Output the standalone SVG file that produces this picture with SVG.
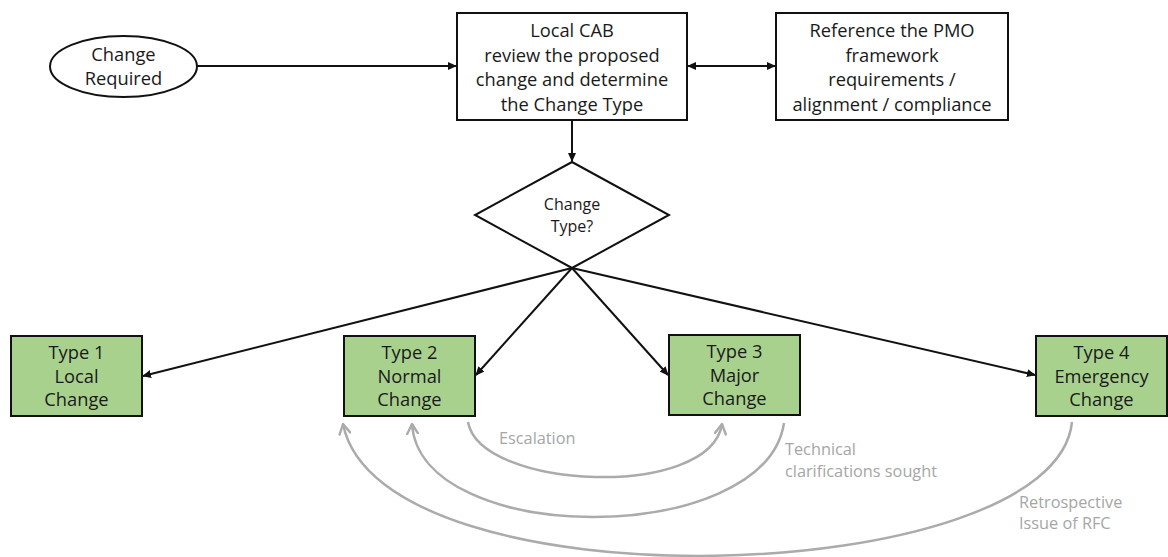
<svg xmlns="http://www.w3.org/2000/svg" width="1168" height="557" viewBox="0 0 1168 557">
  <defs>
    <marker id="arrow" viewBox="0 0 10 10" refX="9" refY="5" markerWidth="9" markerHeight="9" markerUnits="userSpaceOnUse" orient="auto-start-reverse">
      <path d="M0,0.5 L10,5 L0,9.5 Z" fill="#111"/>
    </marker>
    <marker id="chevron" viewBox="0 0 12 12" refX="10" refY="6" markerWidth="13" markerHeight="13" markerUnits="userSpaceOnUse" orient="auto">
      <path d="M1,1 L10,6 L1,11" fill="none" stroke="#ababab" stroke-width="2.2" stroke-linecap="round" stroke-linejoin="round"/>
    </marker>
    <style>
      .box { fill: #ffffff; stroke: #111; stroke-width: 2; }
      .type { fill: #a9d18e; stroke: #111; stroke-width: 2; }
      .txt { font-family: "Open Sans", Lato, sans-serif; font-size: 18.3px; fill: #1a1a1a; text-anchor: middle; }
      .small { font-size: 16px; }
      .note { font-family: "Open Sans", Lato, sans-serif; font-size: 16.3px; fill: #a6a6a6; }
      .flow { fill: none; stroke: #111; stroke-width: 2; }
      .loop { fill: none; stroke: #ababab; stroke-width: 2.5; }
    </style>
  </defs>

  <!-- connectors -->
  <g id="connectors">
    <line class="flow" x1="197" y1="66" x2="456" y2="66" marker-end="url(#arrow)"/>
    <line class="flow" x1="688" y1="66" x2="775" y2="66" marker-start="url(#arrow)" marker-end="url(#arrow)"/>
    <line class="flow" x1="572" y1="120" x2="572" y2="161" marker-end="url(#arrow)"/>
    <line class="flow" x1="572" y1="268" x2="143" y2="376" marker-end="url(#arrow)"/>
    <line class="flow" x1="572" y1="268" x2="476" y2="375" marker-end="url(#arrow)"/>
    <line class="flow" x1="572" y1="268" x2="668" y2="375" marker-end="url(#arrow)"/>
    <line class="flow" x1="572" y1="268" x2="1035" y2="375" marker-end="url(#arrow)"/>

    <!-- feedback loops under the change types -->
    <path class="loop" d="M468,422 C480,490 710,500 722,424" marker-end="url(#chevron)"/>
    <path class="loop" d="M784,423 C765,548 420,548 412,424" marker-end="url(#chevron)"/>
    <path class="loop" d="M1072,422 C1055,590 380,610 343,424" marker-end="url(#chevron)"/>
  </g>

  <g id="change-required">
    <ellipse class="box" cx="123.5" cy="66.5" rx="73.5" ry="30.5"/>
    <text class="txt" x="123.5" y="61">Change</text>
    <text class="txt" x="123.5" y="85">Required</text>
  </g>

  <g id="local-cab">
    <rect class="box" x="457" y="13" width="230" height="107"/>
    <text class="txt" x="572" y="37">Local CAB</text>
    <text class="txt" x="572" y="62">review the proposed</text>
    <text class="txt" x="572" y="86">change and determine</text>
    <text class="txt" x="572" y="110.5">the Change Type</text>
  </g>

  <g id="pmo-reference">
    <rect class="box" x="776" y="13" width="232" height="107"/>
    <text class="txt" x="892" y="37">Reference the PMO</text>
    <text class="txt" x="892" y="62">framework</text>
    <text class="txt" x="892" y="86">requirements /</text>
    <text class="txt" x="892" y="110.5">alignment / compliance</text>
  </g>

  <g id="change-type">
    <polygon class="box" points="572,162 669,215 572,268 475,215"/>
    <text class="txt small" x="572" y="210">Change</text>
    <text class="txt small" x="572" y="232">Type?</text>
  </g>

  <g id="type1">
    <rect class="type" x="11" y="336" width="131" height="80"/>
    <text class="txt" x="76.5" y="359">Type 1</text>
    <text class="txt" x="76.5" y="383">Local</text>
    <text class="txt" x="76.5" y="406">Change</text>
  </g>

  <g id="type2">
    <rect class="type" x="344" y="336" width="131" height="80"/>
    <text class="txt" x="409.5" y="359">Type 2</text>
    <text class="txt" x="409.5" y="383">Normal</text>
    <text class="txt" x="409.5" y="406">Change</text>
  </g>

  <g id="type3">
    <rect class="type" x="669" y="335" width="131" height="80"/>
    <text class="txt" x="734.5" y="358">Type 3</text>
    <text class="txt" x="734.5" y="382">Major</text>
    <text class="txt" x="734.5" y="405">Change</text>
  </g>

  <g id="type4">
    <rect class="type" x="1036" y="336" width="131" height="80"/>
    <text class="txt" x="1101.5" y="359">Type 4</text>
    <text class="txt" x="1101.5" y="383">Emergency</text>
    <text class="txt" x="1101.5" y="406">Change</text>
  </g>

  <g id="loop-labels">
    <text class="note" x="499" y="444">Escalation</text>
    <text class="note" x="785" y="455">Technical</text>
    <text class="note" x="785" y="477">clarifications sought</text>
    <text class="note" x="1019" y="508">Retrospective</text>
    <text class="note" x="1019" y="529">Issue of RFC</text>
  </g>
</svg>
